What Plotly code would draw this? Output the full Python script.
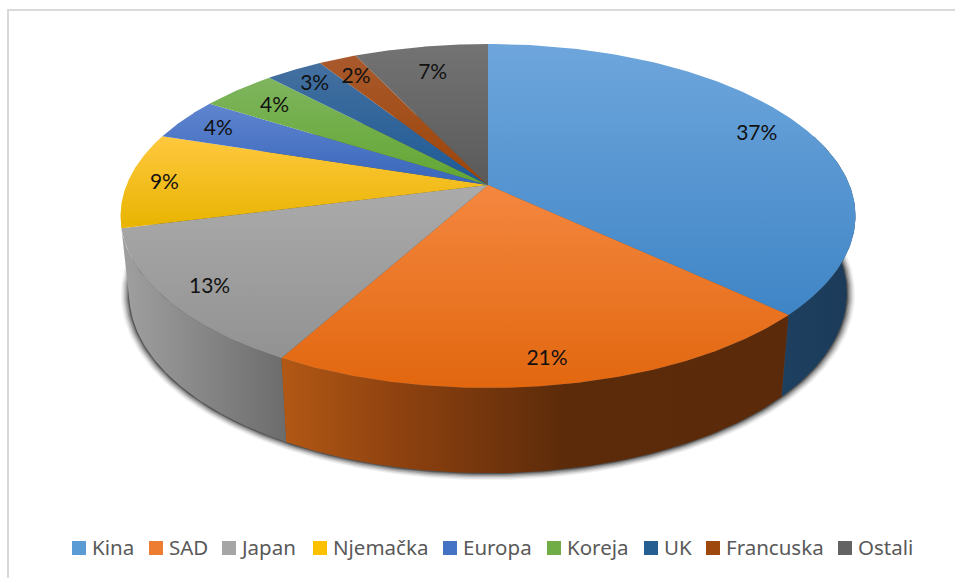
import numpy as np
import plotly.graph_objects as go

categories = ["Kina", "SAD", "Japan", "Njemačka", "Europa", "Koreja", "UK", "Francuska", "Ostali"]
shares = [37, 21, 13, 9, 4, 4, 3, 2, 7]
legend_colors = ["#5b9bd5", "#ed7d31", "#a5a5a5", "#ffc000", "#4472c4", "#70ad47", "#255e91", "#9e480e", "#636363"]
top_light = ["#6ea6dc", "#f4873f", "#ababab", "#ffc83f", "#6085cf", "#7fb55e", "#44709f", "#a9592c", "#737373"]
top_dark = ["#3f85c6", "#e2670f", "#929292", "#e8b400", "#3866bb", "#62a632", "#1d5a96", "#9c4508", "#5a5a5a"]
wall_scales = {
    "Kina": [[0, "#1e4060"], [1, "#1b3a58"]],
    "SAD": [[0, "#b25815"], [0.24, "#8d410f"], [0.56, "#5c2b0a"], [1, "#5a2a0a"]],
    "Japan": [[0, "#a0a0a0"], [1, "#6c6c6c"]],
}

# layout constants, in page pixels
CX, TOP_Y, TOP_A, TOP_B = 488, 185, 361.5, 166.4
BOT_Y, BOT_A, BOT_B = 261, 353, 174
K = 0.18
LABEL_R = [0.86, 0.88, 0.88, 0.9, 0.88, 0.84, 0.88, 0.86, 0.8]
LABEL_SHIFT = 3
LEGEND_X = [79, 156, 229, 320, 450, 554, 651, 713, 845]
LEGEND_TEXT_GAP = 13
LEGEND_Y = 548


def project(theta, r, cy, a, b):
    u, v = r * np.sin(theta), r * np.cos(theta)
    w = 1 + K * v
    return CX + a * u / w, cy - b * v / w


cum = np.cumsum([0] + shares) / sum(shares) * 2 * np.pi
fig = go.Figure()

# soft shadow under the disc
ring = np.linspace(0, 2 * np.pi, 361)
for grow, alpha in [(8, .06), (6.5, .09), (5, .13), (3.5, .18), (2, .24), (1, .3)]:
    sx, sy = project(ring, 1, BOT_Y, BOT_A + grow, BOT_B + grow * 0.7)
    fig.add_trace(go.Scatter(x=sx, y=sy, mode="lines", line_width=0, fill="toself",
                             fillcolor=f"rgba(0,0,0,{alpha})", showlegend=False, hoverinfo="skip"))

# side walls (only the slices that face the viewer)
for i, name in enumerate(categories):
    if name not in wall_scales:
        continue
    t0 = max(cum[i], np.radians(72))
    th = np.linspace(t0, cum[i + 1], 80)
    x1, y1 = project(th, 1, TOP_Y, TOP_A, TOP_B)
    x2, y2 = project(th[::-1], 1, BOT_Y, BOT_A, BOT_B)
    xs = np.r_[x1, x2, x1[0]]
    ys = np.r_[y1, y2, y1[0]]
    fig.add_trace(go.Scatter(x=xs, y=ys, mode="lines", line_width=0, fill="toself", showlegend=False,
                             hoverinfo="skip",
                             fillgradient=dict(type="horizontal", start=float(xs.min()), stop=float(xs.max()),
                                               colorscale=wall_scales[name])))

# top faces
for i, name in enumerate(categories):
    th = np.linspace(cum[i], cum[i + 1], 120)
    ax, ay = project(th, 1, TOP_Y, TOP_A, TOP_B)
    xs = np.r_[CX, ax, CX]
    ys = np.r_[TOP_Y, ay, TOP_Y]
    fig.add_trace(go.Scatter(x=xs, y=ys, mode="lines", line_width=0, fill="toself", showlegend=False,
                             name=name, hoverinfo="skip",
                             fillgradient=dict(type="vertical", start=float(ys.min()), stop=float(ys.max()),
                                               colorscale=[[0, top_light[i]], [1, top_dark[i]]])))

# data labels
mid = (cum[:-1] + cum[1:]) / 2
lx, ly = project(mid, np.array(LABEL_R), TOP_Y, TOP_A, TOP_B)
fig.add_trace(go.Scatter(x=lx, y=ly + LABEL_SHIFT, mode="text", text=[f"{s}%" for s in shares], showlegend=False,
                         hoverinfo="skip", textposition="middle center",
                         textfont=dict(family="Lato", size=21, color="#111111")))

# legend row
fig.add_trace(go.Scatter(x=LEGEND_X, y=[LEGEND_Y] * len(categories), mode="markers", showlegend=False,
                         hoverinfo="skip", marker=dict(symbol="square", size=14, color=legend_colors)))
fig.add_trace(go.Scatter(x=[v + LEGEND_TEXT_GAP for v in LEGEND_X], y=[LEGEND_Y + 1.5] * len(categories),
                         mode="text", text=categories, textposition="middle right", showlegend=False,
                         hoverinfo="skip", textfont=dict(family="Noto Sans", size=20.5, color="#595959")))

fig.update_layout(
    width=955, height=578, margin=dict(l=0, r=0, t=0, b=0),
    paper_bgcolor="white", plot_bgcolor="white",
    xaxis=dict(range=[0, 955], visible=False, fixedrange=True),
    yaxis=dict(range=[578, 0], visible=False, fixedrange=True),
    showlegend=False,
    shapes=[dict(type="rect", x0=8, x1=1000, y0=10, y1=1000,
                 line=dict(color="#d9d9d9", width=2), layer="below")],
)
fig.write_html("out.html", post_script="document.body.style.margin='0';",
               config={"displayModeBar": False})
